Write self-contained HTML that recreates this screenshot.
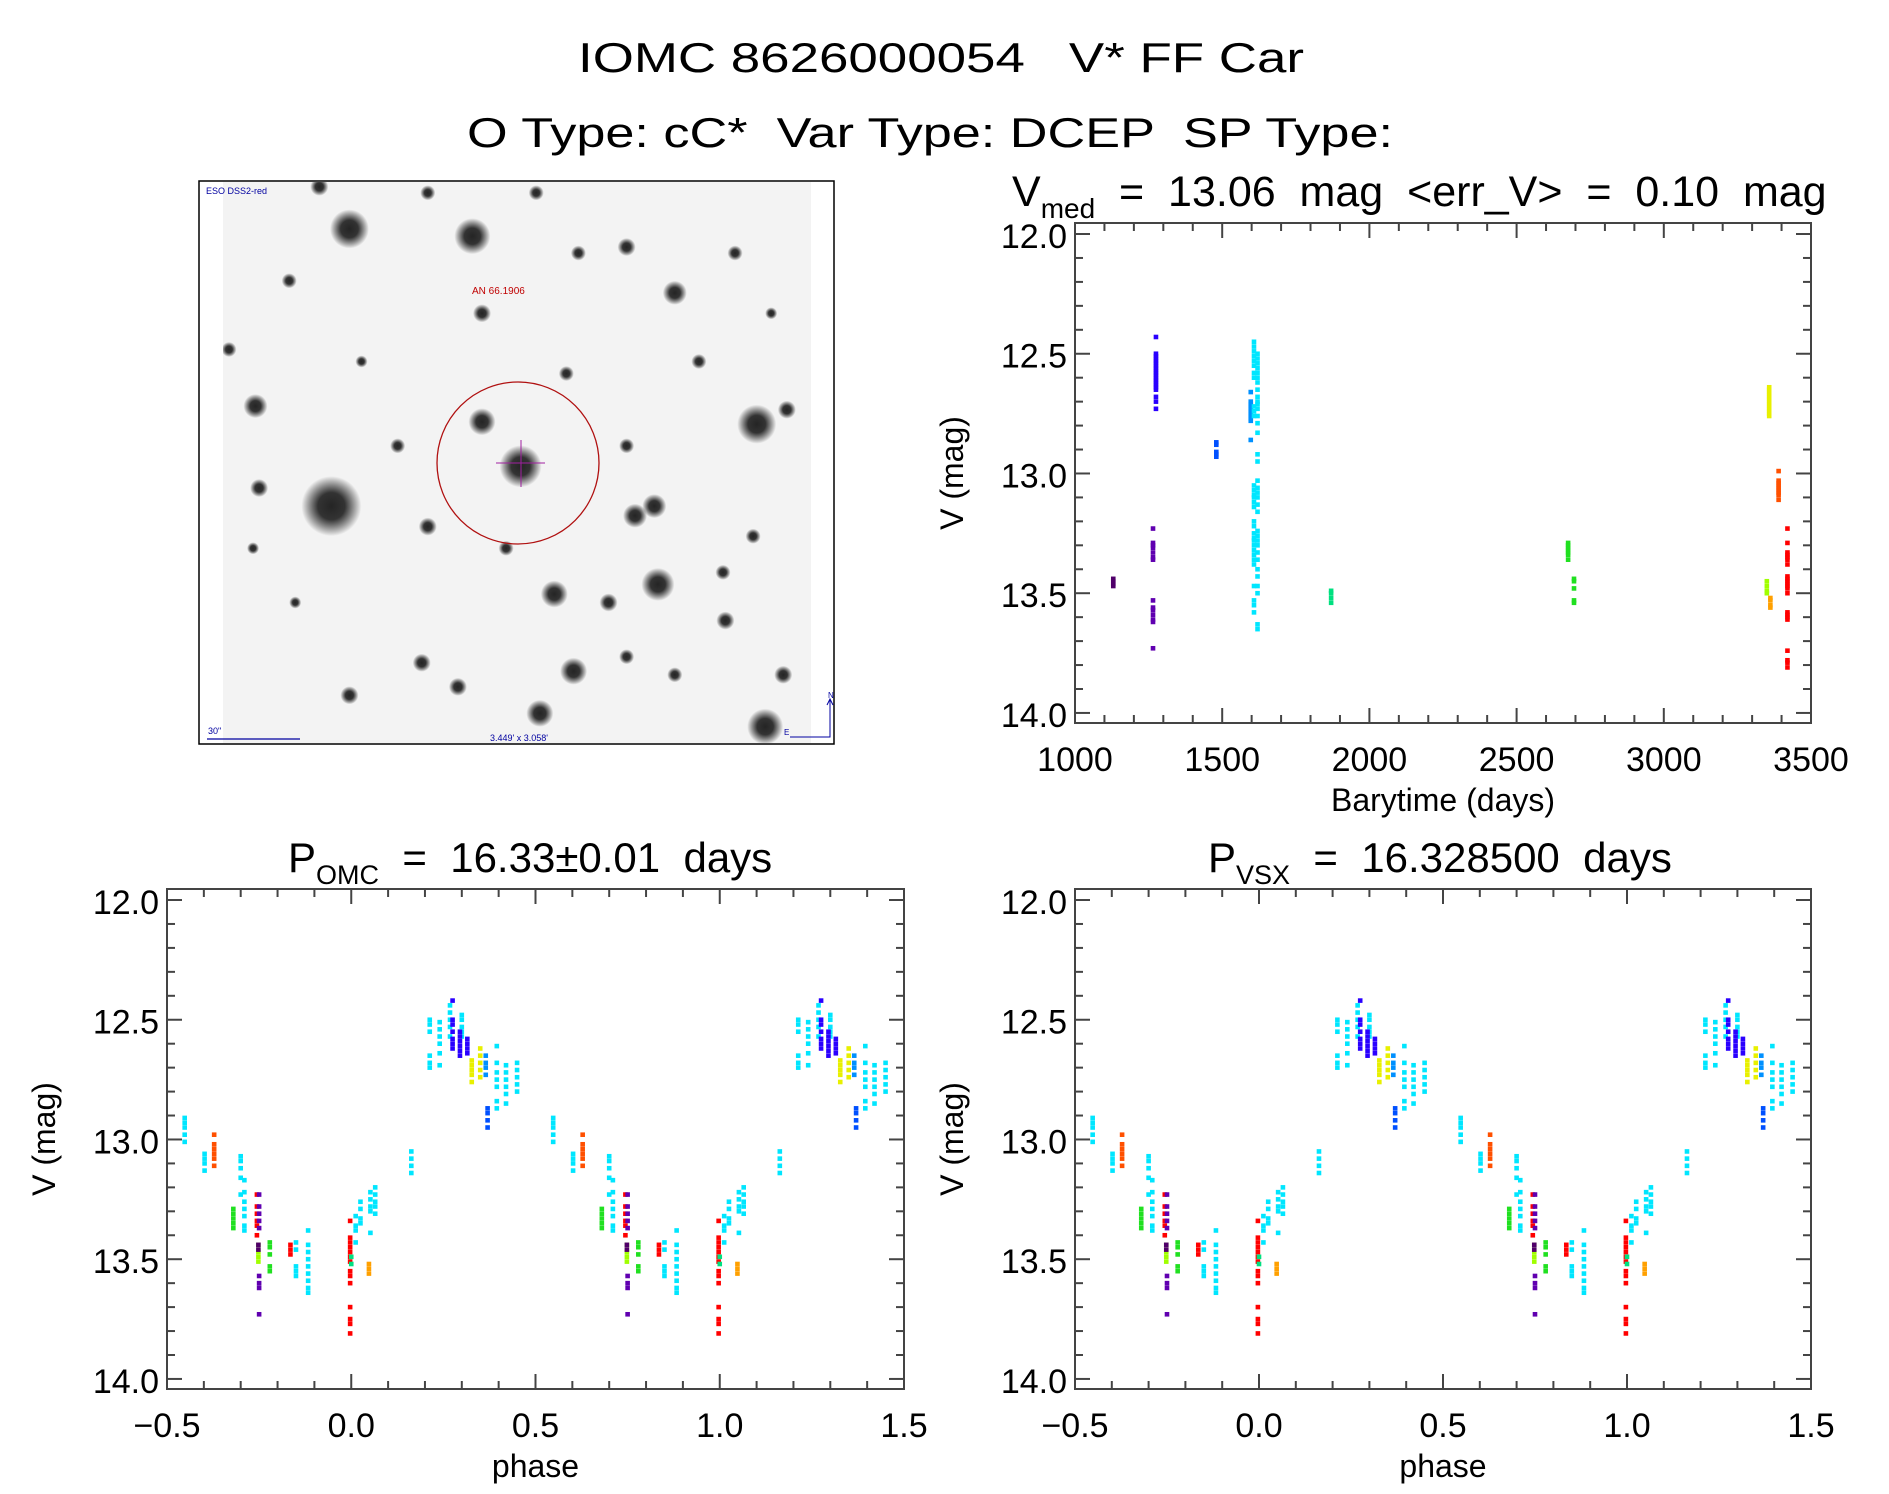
<!DOCTYPE html>
<html><head><meta charset="utf-8">
<style>
html,body{margin:0;padding:0;background:#fff;}
svg{display:block;font-family:"Liberation Sans",sans-serif;}
text{white-space:pre;}
</style></head>
<body>
<svg id="fig" width="1889" height="1494" viewBox="0 0 1889 1494" xmlns="http://www.w3.org/2000/svg" xml:space="preserve">
<defs>
<radialGradient id="star"><stop offset="0" stop-color="#000"/><stop offset="0.45" stop-color="#111"/><stop offset="1" stop-color="#000" stop-opacity="0"/></radialGradient>
<clipPath id="imgclip"><rect x="223" y="182" width="588" height="561"/></clipPath>
</defs>
<text x="941" y="72" font-size="42" text-anchor="middle" textLength="726" lengthAdjust="spacingAndGlyphs" fill="#000">IOMC 8626000054   V* FF Car</text>
<text x="930" y="147" font-size="42" text-anchor="middle" textLength="926" lengthAdjust="spacingAndGlyphs" fill="#000">O Type: cC*  Var Type: DCEP  SP Type:</text>
<g id="img"></g>
<g id="ts"></g>
<g id="ph1"></g>
<g id="ph2"></g>
</svg>
<script>
// ---- time-series data ----
const tsTime = [1130,1265,1275,1480,1597,1608,1620,1870,2675,2695,3350,3358,3362,3390,3420];
const tsColor = ["#50006a","#6000b0","#2a00ff","#0050ff","#0090ff","#00e6ff","#00e6ff","#00e080","#20e020","#20e020","#a0ff00","#e8f000","#ffa000","#ff5000","#ff0000"];
const tsMags = [
 [13.44,13.45,13.46,13.47],
 [13.23,13.29,13.30,13.31,13.33,13.35,13.36,13.53,13.56,13.57,13.59,13.61,13.62,13.73],
 [12.43,12.50,12.51,12.52,12.53,12.54,12.55,12.56,12.57,12.58,12.59,12.60,12.61,12.62,12.63,12.64,12.65,12.68,12.70,12.73],
 [12.87,12.88,12.91,12.92,12.93],
 [12.66,12.70,12.71,12.72,12.73,12.74,12.75,12.76,12.77,12.78,12.86],
 [12.45,12.47,12.49,12.51,12.53,12.55,12.58,12.60,12.72,12.74,12.76,13.05,13.07,13.09,13.10,13.12,13.14,13.20,13.22,13.25,13.27,13.28,13.30,13.32,13.34,13.36,13.38,13.47,13.53,13.55,13.58],
 [12.50,12.52,12.54,12.56,12.58,12.60,12.62,12.65,12.68,12.70,12.71,12.73,12.76,12.79,12.83,12.92,12.95,13.03,13.06,13.08,13.10,13.13,13.16,13.24,13.26,13.28,13.30,13.33,13.36,13.40,13.43,13.47,13.50,13.63,13.65],
 [13.49,13.50,13.52,13.54],
 [13.29,13.30,13.31,13.32,13.33,13.34,13.36],
 [13.44,13.45,13.48,13.53,13.54],
 [13.45,13.47,13.49,13.50],
 [12.64,12.65,12.66,12.67,12.68,12.69,12.70,12.71,12.72,12.73,12.74,12.75,12.76],
 [13.52,13.53,13.55,13.56],
 [12.99,13.03,13.04,13.05,13.06,13.07,13.08,13.09,13.11],
 [13.23,13.29,13.33,13.34,13.35,13.36,13.38,13.43,13.44,13.45,13.46,13.47,13.48,13.50,13.58,13.59,13.60,13.61,13.74,13.78,13.79,13.81]
];
// ---- phase data ----
const phPhase = [-0.452,-0.398,-0.372,-0.30,-0.320,-0.29,-0.256,-0.250,-0.252,-0.252,-0.221,-0.165,-0.150,-0.117,-0.003,0.0,0.012,0.025,0.048,0.052,0.065,0.163,0.213,0.24,0.268,0.275,0.30,0.295,0.315,0.327,0.350,0.365,0.370,0.395,0.42,0.45];
const phColor = ["#00e6ff","#00e6ff","#ff5000","#00e6ff","#20e020","#00e6ff","#ff0000","#6000b0","#a0ff00","#50006a","#20e020","#ff0000","#00e6ff","#00e6ff","#ff0000","#00e080","#00e6ff","#00e6ff","#ffa000","#00e6ff","#00e6ff","#00e6ff","#00e6ff","#00e6ff","#00e6ff","#2a00ff","#00e6ff","#2a00ff","#2a00ff","#e8f000","#e8f000","#0090ff","#0050ff","#00e6ff","#00e6ff","#00e6ff"];
const phMags = [
 [12.91,12.93,12.95,12.98,13.01],[13.06,13.08,13.10,13.13],[12.98,13.02,13.04,13.06,13.08,13.11],
 [13.07,13.09,13.12,13.16,13.23],[13.29,13.31,13.33,13.35,13.37],[13.17,13.22,13.26,13.29,13.32,13.36,13.38],
 [13.23,13.28,13.31,13.34,13.36,13.40],[13.23,13.28,13.31,13.34,13.37,13.57,13.60,13.62,13.73],
 [13.44,13.47,13.49,13.51],[13.44,13.46],[13.43,13.45,13.48,13.53,13.55],[13.44,13.46,13.48],
 [13.43,13.46,13.53,13.55,13.57],[13.38,13.44,13.47,13.50,13.53,13.56,13.59,13.62,13.64],
 [13.34,13.41,13.43,13.45,13.47,13.49,13.51,13.55,13.57,13.60,13.70,13.75,13.77,13.81],[13.49,13.52],
 [13.32,13.36,13.38,13.43],[13.26,13.29,13.33,13.35],[13.52,13.54,13.56],[13.22,13.25,13.28,13.30,13.39],
 [13.20,13.23,13.26,13.28,13.31],[13.05,13.08,13.11,13.14],[12.50,12.52,12.55,12.65,12.68,12.70],
 [12.51,12.54,12.57,12.60,12.64,12.69],[12.44,12.47,12.50,12.53,12.57],[12.42,12.50,12.52,12.55,12.58,12.60,12.62],
 [12.48,12.50,12.53,12.55,12.57],[12.55,12.57,12.59,12.61,12.63,12.65],[12.58,12.60,12.62,12.64],
 [12.67,12.69,12.71,12.73,12.76],[12.62,12.65,12.68,12.71,12.74],[12.65,12.68,12.70,12.73],
 [12.87,12.89,12.92,12.95],[12.61,12.68,12.72,12.75,12.78,12.84,12.87],[12.69,12.72,12.75,12.78,12.81,12.85],
 [12.68,12.71,12.74,12.77,12.80]
];
const tsXTicks = ["1000","1500","2000","2500","3000","3500"];
const phXTicks = ["\u22120.5","0.0","0.5","1.0","1.5"];
const yTicks = ["12.0","12.5","13.0","13.5","14.0"];

const NS="http://www.w3.org/2000/svg";
function mk(tag, attrs, parent){const e=document.createElementNS(NS,tag);for(const k in attrs)e.setAttribute(k,attrs[k]);parent.appendChild(e);return e;}

function axesBox(g, L, R, T, B, xmin, xmax, xMajor, xMinor, xLabels, xTitle, title){
  const ymin=11.954, ymax=14.042;
  const xs=v=>L+(v-xmin)/(xmax-xmin)*(R-L);
  const ys=m=>T+(m-ymin)/(ymax-ymin)*(B-T);
  const frame=mk('rect',{x:L,y:T,width:R-L,height:B-T,fill:'none',stroke:'#444','stroke-width':2},g);
  
  
  const nMin=Math.round((xmax-xmin)/xMinor);
  for(let i=0;i<=nMin;i++){
    const v=xmin+i*xMinor; const x=xs(v);
    const major=Math.abs((v-xmin)/xMajor-Math.round((v-xmin)/xMajor))<1e-6;
    const len=major?15:8;
    mk('line',{x1:x,y1:B,x2:x,y2:B-len,stroke:'#444','stroke-width':2},g);
    mk('line',{x1:x,y1:T,x2:x,y2:T+len,stroke:'#444','stroke-width':2},g);
  }
  for(let i=0;i<=20;i++){
    const m=12+i*0.1; const y=ys(m); const major=i%5===0; const len=major?15:8;
    mk('line',{x1:L,y1:y,x2:L+len,y2:y,stroke:'#444','stroke-width':2},g);
    mk('line',{x1:R,y1:y,x2:R-len,y2:y,stroke:'#444','stroke-width':2},g);
  }
  xLabels.forEach((s,i)=>{
    const t=mk('text',{x:xs(xmin+i*xMajor),y:B+48,'font-size':34,'text-anchor':'middle',fill:'#000'},g);
    t.textContent=s;
    
    
  });
  yTicks.forEach((s,i)=>{
    const t=mk('text',{x:L-8,y:ys(12+i*0.5)+14,'font-size':34,'text-anchor':'end',fill:'#000'},g);
    t.textContent=s;
    
    
  });
  const xt=mk('text',{x:(L+R)/2,y:B+88,'font-size':32,'text-anchor':'middle',fill:'#000'},g);
  xt.textContent=xTitle;
  
  
  const yt=mk('text',{x:0,y:0,'font-size':32,'text-anchor':'middle',fill:'#000',transform:`translate(${L-112},${(T+B)/2}) rotate(-90)`},g);
  yt.textContent='V (mag)';
  
  
  title(g,(L+R)/2,T);
  return {xs,ys};
}
function dot(g,x,y,c){
  const r=mk('rect',{x:x-2.3,y:y-2.3,width:4.6,height:4.6,fill:c},g);
  
  
}

// time series
(function(){
  const g=document.getElementById('ts');
  const ax=axesBox(g,1075,1811,223,723,1000,3500,500,100,tsXTicks,'Barytime (days)',(g,cx,T)=>{
    const t=mk('text',{x:1012,y:206,'font-size':43,fill:'#000'},g);
    t.innerHTML='V<tspan font-size="28" dy="12">med</tspan><tspan dy="-12">  =  13.06  mag  &lt;err_V&gt;  =  0.10  mag</tspan>';
    
    
  });
  tsTime.forEach((tt,i)=>tsMags[i].forEach(m=>dot(g,ax.xs(tt),ax.ys(m),tsColor[i])));
})();

function phasePanel(id,L,R,sub,rest,tx){
  const g=document.getElementById(id);
  const ax=axesBox(g,L,R,889,1389,-0.5,1.5,0.5,0.1,phXTicks,'phase',(g,cx,T)=>{
    const t=mk('text',{x:tx,y:872,'font-size':42,fill:'#000'},g);
    t.innerHTML='P<tspan font-size="27" dy="12">'+sub+'</tspan><tspan dy="-12">'+rest+'</tspan>';
    
    
  });
  phPhase.forEach((p,i)=>{
    [p,p+1].forEach(pp=>{ if(pp>=-0.5&&pp<=1.5) phMags[i].forEach(m=>dot(g,ax.xs(pp),ax.ys(m),phColor[i])); });
  });
}
phasePanel('ph1',167,904,'OMC','  =  16.33\u00b10.01  days',288);
phasePanel('ph2',1075,1811,'VSX','  =  16.328500  days',1208);

// sky image
(function(){
  const g=document.getElementById('img');
  const fr=mk('rect',{x:199,y:181,width:635,height:563,fill:'#fff',stroke:'#000','stroke-width':1.5},g);
  
  
  mk('rect',{x:223,y:182,width:588,height:561,fill:'#f3f3f3'},g);
  const sg=mk('g',{'clip-path':'url(#imgclip)'},g);
  const stars=[[290,190,13],[392,196,12],[275,420,20],[432,387,14],[400,350,9],[628,352,13],[560,243,8],[460,493,9],[546,485,11],[476,557,9],[527,428,8],[543,420,8],[212,337,8],[635,603,12],[448,592,9],[240,233,5],[400,260,6],[520,205,6],[610,210,5],[355,437,6],[505,500,6],[602,515,6],[350,550,6],[290,577,6],[215,405,6],[653,340,6],[190,290,5],[330,370,5],[580,300,5],[650,560,6],[520,370,5],[470,310,5],[265,155,6],[600,475,5],[245,500,4],[480,210,5],[380,570,6],[300,300,4],[560,560,5],[625,445,5],[420,455,5],[520,545,5],[210,455,4],[640,260,4],[355,160,5],[445,160,5]];
  stars.forEach(s=>{const c=mk('circle',{cx:s[0]*1.205,cy:s[1]*1.205,r:s[2]*1.5,fill:'url(#star)',opacity:0.85},sg);
    
    });
  const ci=mk('circle',{cx:518,cy:463,r:81,fill:'none',stroke:'#b01010','stroke-width':1.3},g);
  
  
  mk('line',{x1:496,y1:463,x2:545,y2:463,stroke:'#a020a0','stroke-width':1},g);
  mk('line',{x1:521,y1:440,x2:521,y2:487,stroke:'#a020a0','stroke-width':1},g);
  const t1=mk('text',{x:206,y:194,'font-size':9,fill:'#0000a0'},g); t1.textContent='ESO DSS2-red';
   
  const t2=mk('text',{x:472,y:294,'font-size':10,fill:'#c00000'},g); t2.textContent='AN 66.1906';
   
  const t3=mk('text',{x:208,y:734,'font-size':9,fill:'#0000a0'},g); t3.textContent='30"';
   
  mk('line',{x1:207,y1:739,x2:300,y2:739,stroke:'#0000a0','stroke-width':1.2},g);
  const t4=mk('text',{x:490,y:741,'font-size':9,fill:'#0000a0'},g); t4.textContent="3.449' x 3.058'";
   
  mk('path',{d:'M790 737 L830 737 L830 700 M827 705 L830 699 L833 705',fill:'none',stroke:'#0000a0','stroke-width':1},g);
  const t5=mk('text',{x:828,y:698,'font-size':8,fill:'#0000a0'},g); t5.textContent='N';
   
  const t6=mk('text',{x:784,y:735,'font-size':8,fill:'#0000a0'},g); t6.textContent='E';
   
})();
</script>
</body></html>
